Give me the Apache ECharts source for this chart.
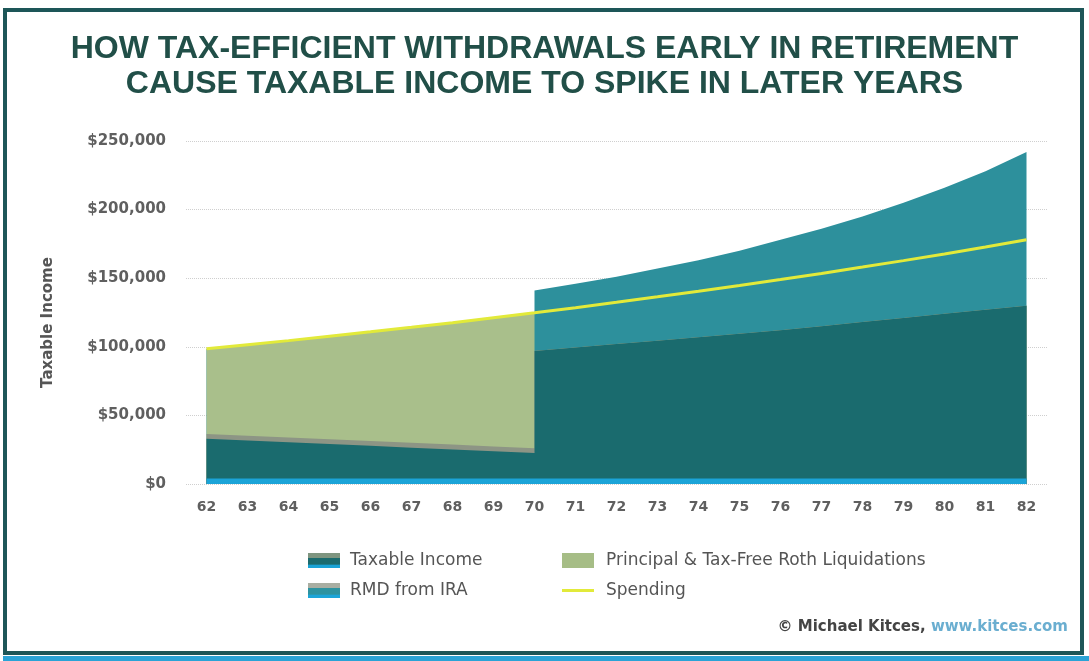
<!DOCTYPE html>
<html>
<head>
<meta charset="utf-8">
<script src="https://cdn.jsdelivr.net/npm/echarts@6/dist/echarts.min.js"></script>
<style>
html,body{margin:0;padding:0;background:#fff;}
#chart{width:1089px;height:661px;}
</style>
</head>
<body>
<div id="chart"></div>
<script>
// ---- data ----
// ages; 70 appears twice: before and after RMDs begin (vertical step)
const ages = [62,63,64,65,66,67,68,69,70,70,71,72,73,74,75,76,77,78,79,80,81,82];
const tickAges = [62,63,64,65,66,67,68,69,70,71,72,73,74,75,76,77,78,79,80,81,82];
const yTicks = [0,50000,100000,150000,200000,250000];
// stacked layer thicknesses ($), bottom to top
const baseIncome    = [4000,4000,4000,4000,4000,4000,4000,4000,4000,4000,4000,4000,4000,4000,4000,4000,4000,4000,4000,4000,4000,4000];
const taxableIncome = [29000,27700,26400,25100,23800,22500,21200,19900,18600,93000,95500,98000,100500,103000,105500,108000,111000,114000,117000,120000,123000,126000];
const otherTaxable  = [3500,3500,3500,3500,3500,3500,3500,3500,3500,0,0,0,0,0,0,0,0,0,0,0,0,0];
const principalRoth = [62000,66300,70600,75100,79600,84200,88900,93800,98700,0,0,0,0,0,0,0,0,0,0,0,0,0];
const rmdFromIra    = [0,0,0,0,0,0,0,0,0,44000,46500,49000,52500,56000,60500,66000,71000,77000,84000,92000,101000,112000];
const spending      = [98500,101500,104500,107700,110900,114200,117600,121200,124800,124800,128500,132400,136400,140500,144700,149000,153500,158100,162800,167700,172700,178000];

// cumulative tops of each layer (stack built here, drawn as overlapping areas)
const layers = [baseIncome, taxableIncome, otherTaxable, principalRoth, rmdFromIra];
const cum = [];
layers.forEach((arr, k) => cum.push(arr.map((v, i) => v + (k ? cum[k - 1][i] : 0))));
const pairs = arr => ages.map((a, i) => [a, arr[i]]);

const FONT = '"DejaVu Sans", "Liberation Sans", Arial, sans-serif';
const TFONT = '"Liberation Sans Narrow", "Liberation Sans", Arial, sans-serif';

const chart = echarts.init(document.getElementById('chart'), null, {renderer: 'canvas'});

function areaSeries(name, data, color, z) {
  return {
    name: name, type: 'line', data: pairs(data),
    symbol: 'none', showSymbol: false, lineStyle: {width: 0}, z: z,
    areaStyle: {color: color, opacity: 1, origin: 'start'}, itemStyle: {color: color},
    emphasis: {disabled: true}
  };
}

const grad = (c1, c2, c3) => new echarts.graphic.LinearGradient(0, 0, 0, 1, [
  {offset: 0, color: c1}, {offset: 0.3, color: c1}, {offset: 0.35, color: c2},
  {offset: 0.75, color: c2}, {offset: 0.8, color: c3}, {offset: 1, color: c3}
]);

const option = {
  backgroundColor: '#ffffff',
  animation: false,
  title: {
    text: 'HOW TAX-EFFICIENT WITHDRAWALS EARLY IN RETIREMENT\nCAUSE TAXABLE INCOME TO SPIKE IN LATER YEARS',
    left: 'center', top: 27,
    textStyle: {fontFamily: TFONT, fontSize: 32, fontWeight: 'bold', color: '#214f48', lineHeight: 35}
  },
  grid: {left: 186, right: 42, top: 141, bottom: 177, containLabel: false},
  xAxis: {
    type: 'value', min: 61.5, max: 82.5,
    axisLine: {show: false}, axisTick: {show: false}, splitLine: {show: false},
    axisLabel: {customValues: tickAges, color: '#5f5f5f', fontFamily: FONT, fontWeight: 'bold', fontSize: 14, margin: 16}
  },
  yAxis: {
    type: 'value', min: 0, max: 250000, interval: 50000,
    name: 'Taxable Income', nameLocation: 'middle', nameRotate: 90, nameGap: 130,
    nameTextStyle: {fontFamily: FONT, fontWeight: 'bold', fontSize: 15, color: '#555', padding: [0, 20, 0, 0]},
    axisLine: {show: false}, axisTick: {show: false},
    axisLabel: {
      customValues: yTicks,
      color: '#5f5f5f', fontFamily: FONT, fontWeight: 'bold', fontSize: 15, margin: 20,
      formatter: v => '$' + v.toLocaleString('en-US')
    },
    splitLine: {lineStyle: {color: '#cfcfcf', type: 'dotted', width: 1}}
  },
  legend: [
    {
      left: 303, top: 547, orient: 'vertical', itemWidth: 32, itemHeight: 15, itemGap: 13,
      textStyle: {fontFamily: FONT, fontSize: 17, color: '#555', padding: [0, 0, 0, 5]},
      data: [
        {name: 'Taxable Income', icon: 'rect', itemStyle: {color: grad('#7f9580', '#1b6b6e', '#1aa3d6')}},
        {name: 'RMD from IRA', icon: 'rect', itemStyle: {color: grad('#a9aea2', '#2d93a0', '#1ca5d8')}}
      ]
    },
    {
      left: 557, top: 547, orient: 'vertical', itemWidth: 32, itemHeight: 15, itemGap: 13,
      textStyle: {fontFamily: FONT, fontSize: 17, color: '#555', padding: [0, 0, 0, 7]},
      data: [
        {name: 'Principal & Tax-Free Roth Liquidations', icon: 'rect', itemStyle: {color: '#a6bd86'}},
        {name: 'Spending', icon: 'path://M0,0 L32,0 L32,3 L0,3 Z', itemStyle: {color: '#e2ea3a'}}
      ]
    }
  ],
  series: [
    areaSeries('RMD from IRA', cum[4], '#2d909c', 1),
    areaSeries('Principal & Tax-Free Roth Liquidations', cum[3], '#a9bf8b', 2),
    areaSeries('Other', cum[2], '#8d9585', 3),
    areaSeries('Taxable Income', cum[1], '#1a6b6e', 4),
    areaSeries('Base', cum[0], '#1ba4d8', 5),
    {
      name: 'Spending', type: 'line', data: pairs(spending), symbol: 'none', z: 8,
      lineStyle: {color: '#e2ea3a', width: 3}, itemStyle: {color: '#e2ea3a'},
      emphasis: {disabled: true}
    }
  ],
  graphic: [
    {type: 'rect', shape: {x: 5, y: 10, width: 1077, height: 643}, style: {fill: 'none', stroke: '#1d5658', lineWidth: 4}, z: 100},
    {type: 'rect', shape: {x: 3, y: 656, width: 1086, height: 5}, style: {fill: '#2aa3d6'}, z: 100},
    {
      type: 'text', right: 21, top: 620, z: 100,
      style: {
        text: '{a|© Michael Kitces, }{b|www.kitces.com}',
        rich: {
          a: {fontFamily: FONT, fontSize: 15, fontWeight: 'bold', fill: '#444'},
          b: {fontFamily: FONT, fontSize: 15, fontWeight: 'bold', fill: '#6aaed0'}
        }
      }
    }
  ]
};
chart.setOption(option);
</script>
</body>
</html>
